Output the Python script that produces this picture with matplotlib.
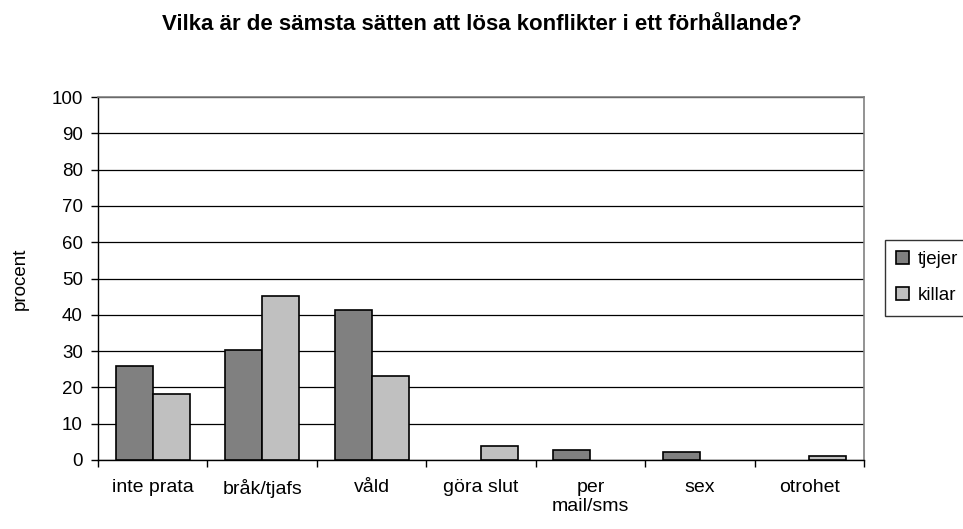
import numpy as np
import matplotlib
matplotlib.use('Agg')
import matplotlib.pyplot as plt

plt.rcParams['font.family'] = ['Liberation Sans', 'DejaVu Sans']

categories = ['inte prata', 'bråk/tjafs', 'våld', 'göra slut', 'per\nmail/sms', 'sex', 'otrohet']
tjejer = [26, 30.3, 41.4, 0, 2.8, 2.2, 0]
killar = [18.2, 45.2, 23.2, 3.9, 0, 0, 1.1]
series_names = ['tjejer', 'killar']
yticks = list(range(0, 101, 10))

fig = plt.figure(figsize=(9.63, 5.29), dpi=100)
ax = fig.add_axes([98/963, 1-460/529, (864-98)/963, (460-97)/529])

x = np.arange(len(categories))
w = 0.338
# no outline on empty bars (as in the original)
lw_t = [1.2 if v > 0 else 0 for v in tjejer]
lw_k = [1.2 if v > 0 else 0 for v in killar]
ax.bar(x - w/2, tjejer, w, color='#808080', edgecolor='black', linewidth=lw_t,
       label=series_names[0], zorder=3)
ax.bar(x + w/2, killar, w, color='#c0c0c0', edgecolor='black', linewidth=lw_k,
       label=series_names[1], zorder=3)

ax.set_xlim(-0.5, len(categories) - 0.5)
ax.set_ylim(0, 100)
ax.set_yticks(yticks)
ax.yaxis.grid(True, color='black', linewidth=0.9, zorder=0)
ax.set_axisbelow(True)

ax.set_xticks(np.arange(len(categories) + 1) - 0.5, minor=False)
ax.set_xticklabels([])
ax.set_xticks(x, minor=True)
ax.set_xticklabels(categories, minor=True, fontsize=14, linespacing=1.1)
ax.tick_params(axis='x', which='minor', length=0, pad=14)
ax.tick_params(axis='x', which='major', length=5, direction='out', width=1)
ax.tick_params(axis='y', length=5, direction='out', width=1, labelsize=13.5, pad=6)

for s in ['top', 'right']:
    ax.spines[s].set_color('#808080')
    ax.spines[s].set_linewidth(1.2)
for s in ['left', 'bottom']:
    ax.spines[s].set_color('black')
    ax.spines[s].set_linewidth(1)

ax.set_ylabel('procent', fontsize=13.5, labelpad=16)

fig.text(0.5, 1 - 24/529, 'Vilka är de sämsta sätten att lösa konflikter i ett förhållande?',
         ha='center', va='center', fontsize=16, fontweight='bold')

leg = fig.legend(loc='upper left', bbox_to_anchor=(885/963, 1 - 240/529),
                 fontsize=13.5, frameon=True, fancybox=False, edgecolor='black',
                 handlelength=0.7, handleheight=0.7, handletextpad=0.45,
                 borderpad=0.6, labelspacing=1.0, borderaxespad=0)
leg.get_frame().set_linewidth(1)

fig.savefig('out.png', dpi=100)
